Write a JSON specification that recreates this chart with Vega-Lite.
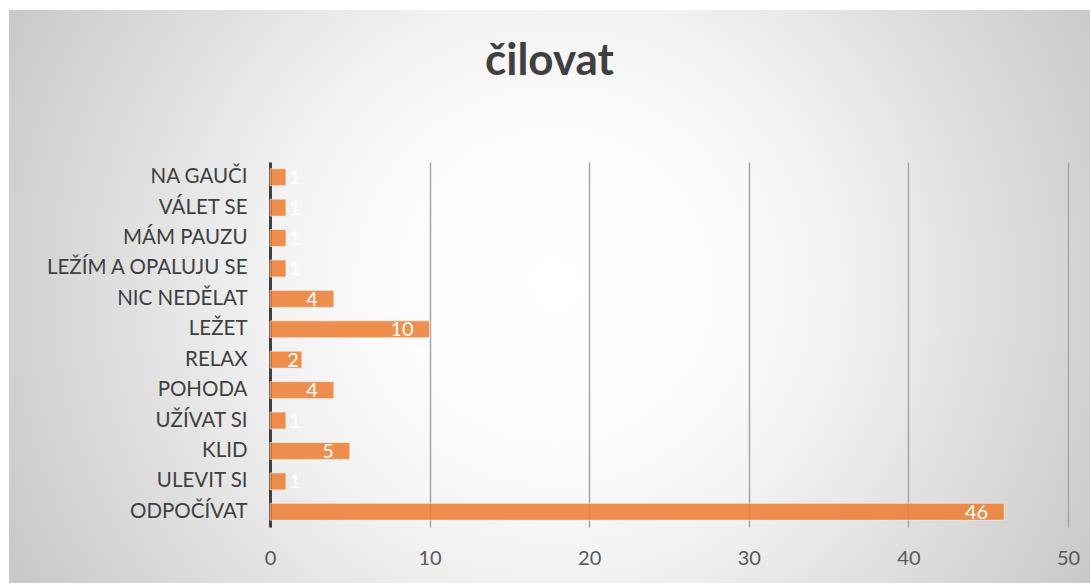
{
  "$schema": "https://vega.github.io/schema/vega-lite/v6.json",
  "width": 1081,
  "height": 573,
  "autosize": {"type": "none"},
  "padding": {"left": 9, "top": 10, "right": 0, "bottom": 0},
  "background": "#ffffff",
  "view": {
    "stroke": null,
    "fill": {
      "gradient": "radial",
      "x1": 0.505, "y1": 0.49, "r1": 0,
      "x2": 0.505, "y2": 0.49, "r2": 0.56,
      "stops": [
        {"offset": 0, "color": "#ffffff"},
        {"offset": 0.25, "color": "#fcfcfc"},
        {"offset": 0.46, "color": "#f3f3f3"},
        {"offset": 0.7, "color": "#e0e0e0"},
        {"offset": 0.89, "color": "#d2d2d2"},
        {"offset": 1, "color": "#c9c9c9"}
      ]
    }
  },
  "title": {
    "text": "čilovat",
    "anchor": "middle",
    "frame": "group",
    "font": "Lato",
    "fontSize": 44,
    "fontWeight": "bold",
    "color": "#404040",
    "baseline": "alphabetic",
    "offset": 0,
    "dy": 109
  },
  "data": {
    "values": [
      {"kategorie": "NA GAUČI", "pocet": 1},
      {"kategorie": "VÁLET SE", "pocet": 1},
      {"kategorie": "MÁM PAUZU", "pocet": 1},
      {"kategorie": "LEŽÍM A OPALUJU SE", "pocet": 1},
      {"kategorie": "NIC NEDĚLAT", "pocet": 4},
      {"kategorie": "LEŽET", "pocet": 10},
      {"kategorie": "RELAX", "pocet": 2},
      {"kategorie": "POHODA", "pocet": 4},
      {"kategorie": "UŽÍVAT SI", "pocet": 1},
      {"kategorie": "KLID", "pocet": 5},
      {"kategorie": "ULEVIT SI", "pocet": 1},
      {"kategorie": "ODPOČÍVAT", "pocet": 46}
    ]
  },
  "resolve": {"axis": {"x": "independent"}},
  "encoding": {
    "y": {
      "field": "kategorie",
      "type": "nominal",
      "sort": null,
      "scale": {"range": [152, 517], "paddingInner": 0.44, "paddingOuter": 0.22},
      "axis": {
        "title": null,
        "orient": "left",
        "offset": -261,
        "domain": true,
        "domainColor": "#404040",
        "domainWidth": 3,
        "ticks": false,
        "grid": false,
        "labelPadding": 23,
        "labelLimit": 400,
        "labelFont": "Lato",
        "labelFontSize": 20.5,
        "labelColor": "#404040"
      }
    }
  },
  "layer": [
    {
      "mark": {"type": "bar", "color": "#ED7D31", "opacity": 0.85, "stroke": "#ffffff", "strokeOpacity": 0.6, "strokeWidth": 1},
      "encoding": {
        "x": {
          "field": "pocet",
          "type": "quantitative",
          "scale": {"domain": [0, 50], "range": [261, 1059], "nice": false, "zero": true},
          "axis": {
            "title": null,
            "orient": "top",
            "values": [0, 10, 20, 30, 40, 50],
            "domain": false,
            "ticks": false,
            "labels": false,
            "grid": true,
            "gridColor": "#a6a6a6",
            "gridWidth": 1.5
          }
        }
      }
    },
    {
      "transform": [{"filter": "datum.pocet >= 4"}],
      "mark": {"type": "text", "align": "right", "baseline": "middle", "dx": -16, "dy": 1, "color": "#ffffff", "font": "Lato", "fontSize": 20},
      "encoding": {
        "x": {
          "field": "pocet",
          "type": "quantitative",
          "axis": {
            "title": null,
            "orient": "bottom",
            "values": [0, 10, 20, 30, 40, 50],
            "offset": -56,
            "domain": false,
            "ticks": false,
            "grid": false,
            "labelFlush": false,
            "labelPadding": 21,
            "labelFont": "Lato",
            "labelFontSize": 20,
            "labelColor": "#595959"
          }
        },
        "text": {"field": "pocet", "type": "quantitative"}
      }
    },
    {
      "transform": [{"filter": "datum.pocet == 2"}],
      "mark": {"type": "text", "align": "right", "baseline": "middle", "dx": -3, "dy": 1, "color": "#ffffff", "font": "Lato", "fontSize": 20},
      "encoding": {
        "x": {"field": "pocet", "type": "quantitative", "axis": null},
        "text": {"field": "pocet", "type": "quantitative"}
      }
    },
    {
      "transform": [{"filter": "datum.pocet == 1"}],
      "mark": {"type": "text", "align": "left", "baseline": "middle", "dx": 3, "dy": 1, "color": "#ffffff", "font": "Lato", "fontSize": 20},
      "encoding": {
        "x": {"field": "pocet", "type": "quantitative", "axis": null},
        "text": {"field": "pocet", "type": "quantitative"}
      }
    }
  ]
}
